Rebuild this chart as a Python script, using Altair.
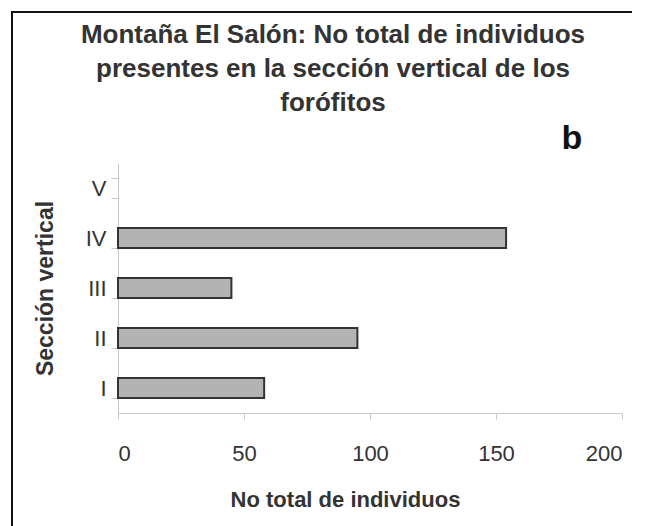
import altair as alt
import pandas as pd

categories = ["V", "IV", "III", "II", "I"]
bar_categories = ["IV", "III", "II", "I"]
bar_values = [154, 45, 95, 58]
x_ticks = [0, 50, 100, 150, 200]

df = pd.DataFrame({"seccion": bar_categories, "n": bar_values})

title_lines = [
    "Montaña El Salón: No total de individuos",
    "presentes en la sección vertical de los",
    "forófitos",
]
panel_letter = "b"

FONT = "Liberation Sans"
TXT = "#333333"
AXC = "#c8c8c8"

bars = alt.Chart(df).mark_bar(
    fill="#b3b3b3", stroke="#333333", strokeWidth=2
).encode(
    x=alt.X(
        "n:Q",
        scale=alt.Scale(domain=[0, 200], nice=False),
        axis=alt.Axis(
            values=x_ticks, title="No total de individuos", grid=False,
            domainColor=AXC, tickColor=AXC, tickSize=6, labelPadding=24,
            labelFontSize=22, labelColor=TXT, labelFont=FONT,
            titleFontSize=22, titleFont=FONT, titleFontWeight="bold", titleColor=TXT,
            titleX=227, titleY=86, titleBaseline="middle",
        ),
    ),
    y=alt.Y(
        "seccion:N",
        scale=alt.Scale(domain=categories, paddingInner=0.6, paddingOuter=0.3),
        axis=alt.Axis(
            title="Sección vertical", grid=False, tickBand="extent",
            domainColor=AXC, tickColor=AXC, tickSize=7, labelPadding=5,
            labelFontSize=22, labelColor=TXT, labelFont=FONT,
            titleFontSize=23, titleFont=FONT, titleFontWeight="bold", titleColor=TXT,
            titleX=-73, titleY=125, titleAngle=-90, titleBaseline="middle",
        ),
    ),
)

title_text = alt.Chart(alt.Data(values=[{"k": 1}])).mark_text(
    font=FONT, fontSize=26, fontWeight="bold", color=TXT,
    align="center", baseline="middle", lineHeight=34,
).encode(text=alt.value(title_lines), x=alt.value(215), y=alt.value(-128))

label_b = alt.Chart(alt.Data(values=[{"t": panel_letter}])).mark_text(
    font=FONT, fontSize=34, fontWeight="bold", color="#111111",
    align="center", baseline="alphabetic",
).encode(text="t:N", x=alt.value(454), y=alt.value(-14))

frame_left = alt.Chart(alt.Data(values=[{"f": 1}])).mark_rect(
    fill="#111111", strokeWidth=0
).encode(x=alt.value(-107), x2=alt.value(-105), y=alt.value(-152), y2=alt.value(420))

frame_top = alt.Chart(alt.Data(values=[{"f": 1}])).mark_rect(
    fill="#111111", strokeWidth=0
).encode(x=alt.value(-107), x2=alt.value(514), y=alt.value(-152), y2=alt.value(-150))

chart = alt.layer(frame_left, frame_top, bars, title_text, label_b).properties(
    width=504,
    height=250,
    autosize=alt.AutoSizeParams(type="none"),
    padding={"left": 110, "top": 155, "right": 18, "bottom": 113},
).configure_view(stroke=None)

chart.save("out.html", embed_options={"renderer": "svg", "actions": False})
